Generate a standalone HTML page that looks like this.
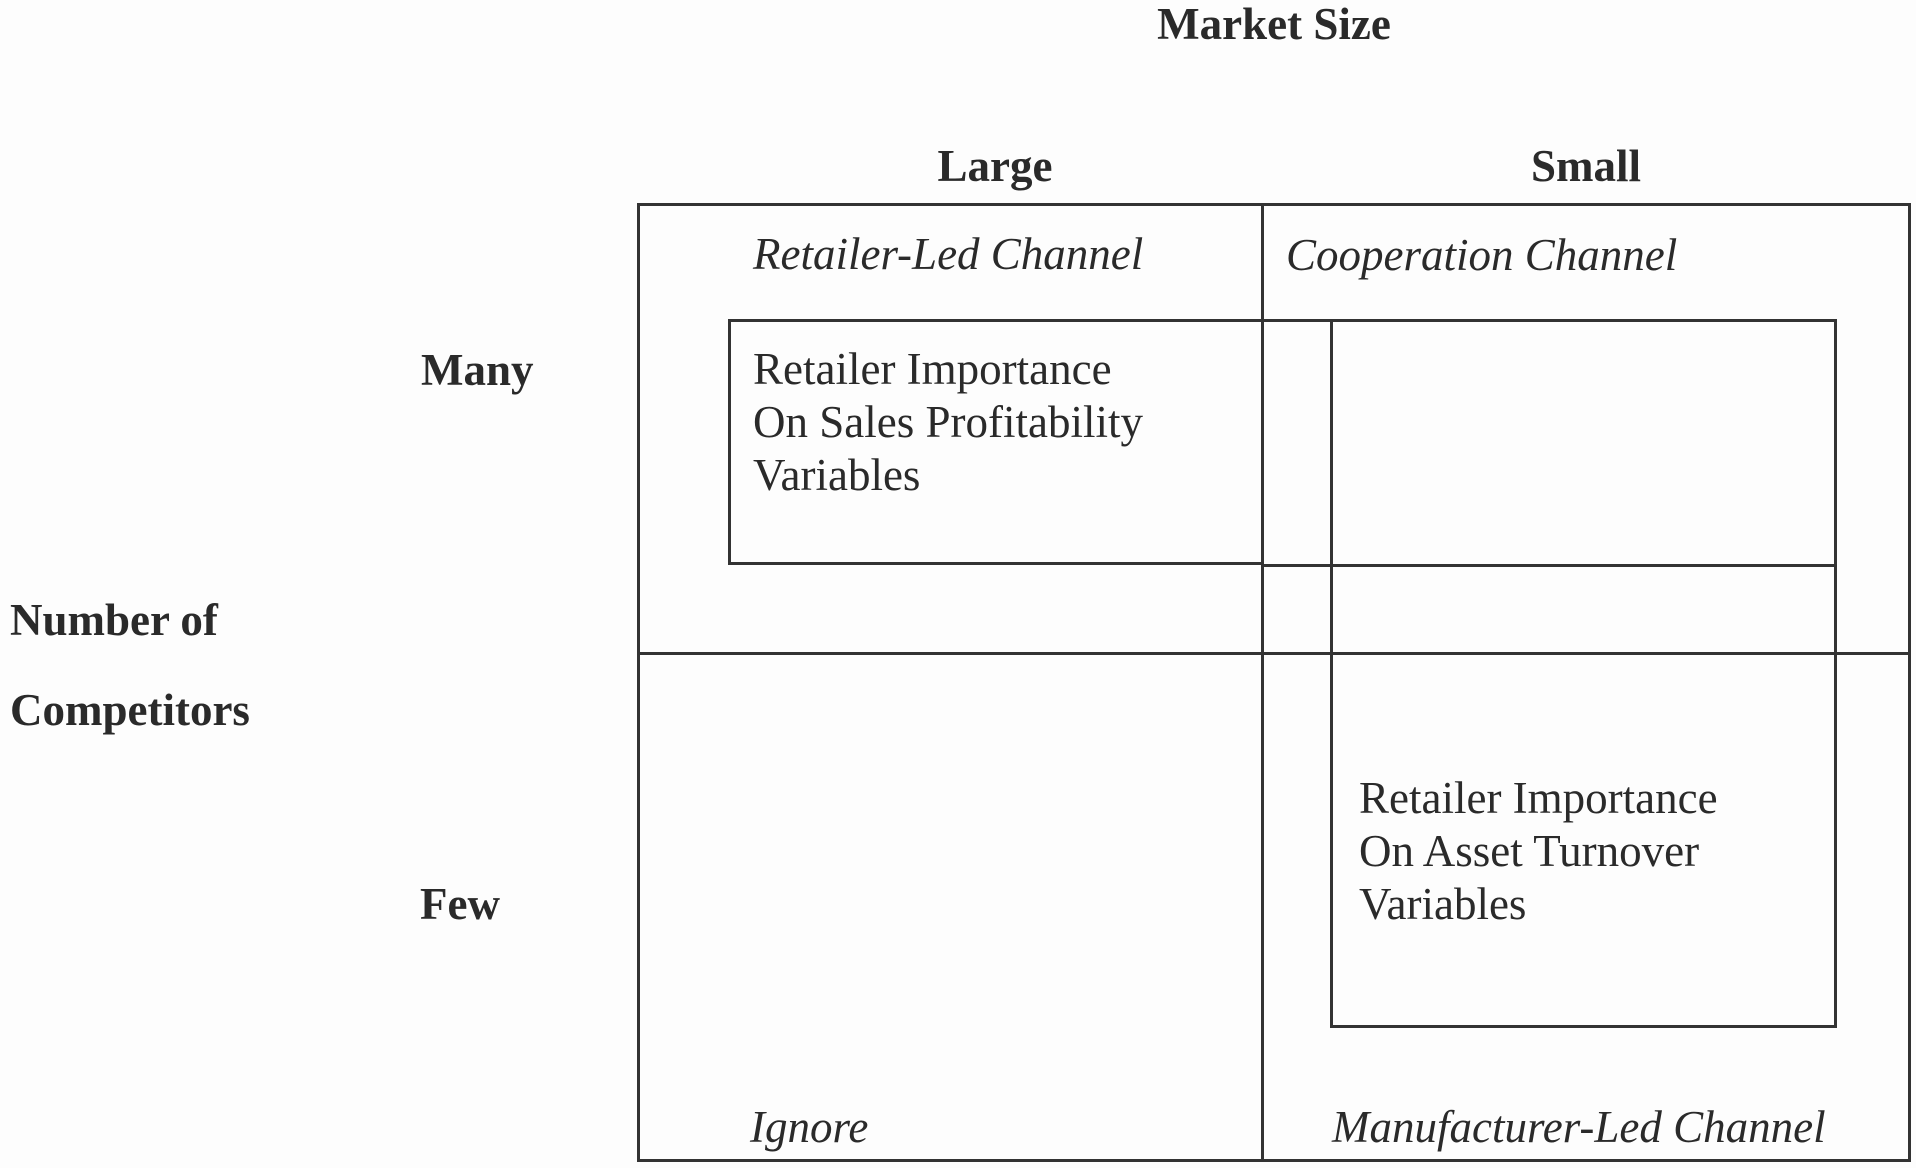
<!DOCTYPE html>
<html><head><meta charset="utf-8"><style>
body{margin:0;width:1916px;height:1168px;background:#fdfdfd;position:relative;overflow:hidden;font-family:"Liberation Serif",serif;color:#2a2a2a}
.t{position:absolute;font-size:45px;line-height:44px;white-space:nowrap}
.b{font-weight:bold}
.i{font-style:italic}
.c{transform:translateX(-50%)}
.l{position:absolute;background:#333}
</style></head><body>
<div class="t b c" style="left:1274px;top:2px">Market Size</div>
<div class="t b c" style="left:995px;top:144px">Large</div>
<div class="t b c" style="left:1586px;top:144px">Small</div>
<div class="t b" style="left:421px;top:348px">Many</div>
<div class="t b" style="left:420px;top:882px">Few</div>
<div class="t b" style="left:10px;top:598px">Number of</div>
<div class="t b" style="left:10px;top:688px">Competitors</div>
<div class="t i" style="left:753px;top:232px">Retailer-Led Channel</div>
<div class="t i" style="left:1286px;top:233px">Cooperation Channel</div>
<div class="t" style="left:753px;top:343px;line-height:53px">Retailer Importance<br>On Sales Profitability<br>Variables</div>
<div class="t" style="left:1359px;top:772px;line-height:53px">Retailer Importance<br>On Asset Turnover<br>Variables</div>
<div class="t i" style="left:750px;top:1105px">Ignore</div>
<div class="t i" style="left:1332px;top:1105px">Manufacturer-Led Channel</div>
<!-- outer grid -->
<div class="l" style="left:638px;top:203px;width:1273px;height:3px"></div>
<div class="l" style="left:637px;top:1159px;width:1274px;height:3px"></div>
<div class="l" style="left:637px;top:203px;width:3px;height:959px"></div>
<div class="l" style="left:1908px;top:203px;width:3px;height:959px"></div>
<div class="l" style="left:1261px;top:203px;width:3px;height:959px"></div>
<div class="l" style="left:638px;top:652px;width:1273px;height:3px"></div>
<!-- inner box 1 -->
<div class="l" style="left:728px;top:319px;width:536px;height:3px"></div>
<div class="l" style="left:728px;top:562px;width:536px;height:3px"></div>
<div class="l" style="left:728px;top:319px;width:3px;height:246px"></div>
<!-- inner box 2 -->
<div class="l" style="left:1262px;top:319px;width:575px;height:3px"></div>
<div class="l" style="left:1262px;top:564px;width:575px;height:3px"></div>
<div class="l" style="left:1330px;top:1025px;width:507px;height:3px"></div>
<div class="l" style="left:1330px;top:319px;width:3px;height:709px"></div>
<div class="l" style="left:1834px;top:319px;width:3px;height:709px"></div>
</body></html>
